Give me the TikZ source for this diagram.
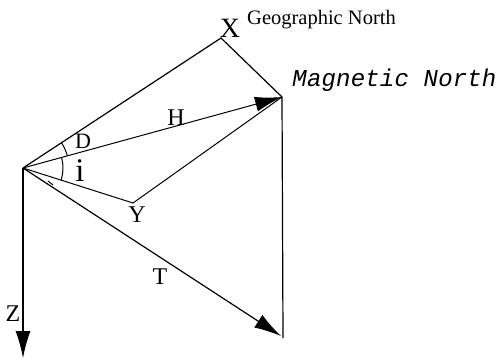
\documentclass[tikz,border=0pt]{standalone}
\usepackage{fontspec}
\setmainfont{Liberation Serif}
\newfontfamily\magfont[FakeSlant=0.18]{Liberation Mono}
\usetikzlibrary{arrows.meta,calc}
\begin{document}
\begin{tikzpicture}[x=1pt,y=-1pt,
  edge/.style={line width=1.2pt},
  thin edge/.style={line width=1pt},
  bigarrow/.style={-{Latex[length=27pt,width=15pt]}},
  lbl/.style={inner sep=0pt,font=\fontsize{24}{24}\selectfont}]
\useasboundingbox (0,0) rectangle (502,359);
\coordinate (O) at (23,168);
\coordinate (X) at (221,38);
\coordinate (M) at (282,97);
\coordinate (Y) at (133,203);
\coordinate (Tend) at (281,336);
\coordinate (Mbot) at (283,338);
\coordinate (Zend) at (23,358);
% lines
\draw[edge] (O) -- (X) -- (M) -- (Mbot);
\draw[thin edge,bigarrow] (O) -- (M);
\draw[thin edge] (O) -- (Y) -- (M);
\draw[edge,bigarrow] (O) -- (Tend);
\draw[edge,bigarrow] (O) -- (Zend);
% angle arcs
\draw[thin edge] ($(O)+(-33.5:46)$) arc[start angle=-33.5,end angle=-15.5,radius=46];
\draw[thin edge] ($(O)+(-15:40)$) arc[start angle=-15,end angle=17,radius=40];
\draw[thin edge] (48,181) -- (53,185);
% labels
\node[lbl,font=\fontsize{28}{28}\selectfont] (xl) at (230,28) {X};
\node[lbl,anchor=west,font=\fontsize{20.5}{20.5}\selectfont] (gn) at (247,20) {Geographic North};
\node[lbl,anchor=west,font=\fontsize{24.3}{24.3}\selectfont\magfont] (mn) at (291,80) {Magnetic North};
\node[lbl,font=\fontsize{22}{22}\selectfont] (D) at (83,141) {D};
\node[lbl] (H) at (176,118) {H};
\node[lbl,font=\fontsize{33}{33}\selectfont] (I) at (80,171) {i};
\node[lbl] (Yl) at (137,215) {Y};
\node[lbl] (Tl) at (160,277) {T};
\node[lbl] (Zl) at (13,314) {Z};
\end{tikzpicture}
\end{document}
